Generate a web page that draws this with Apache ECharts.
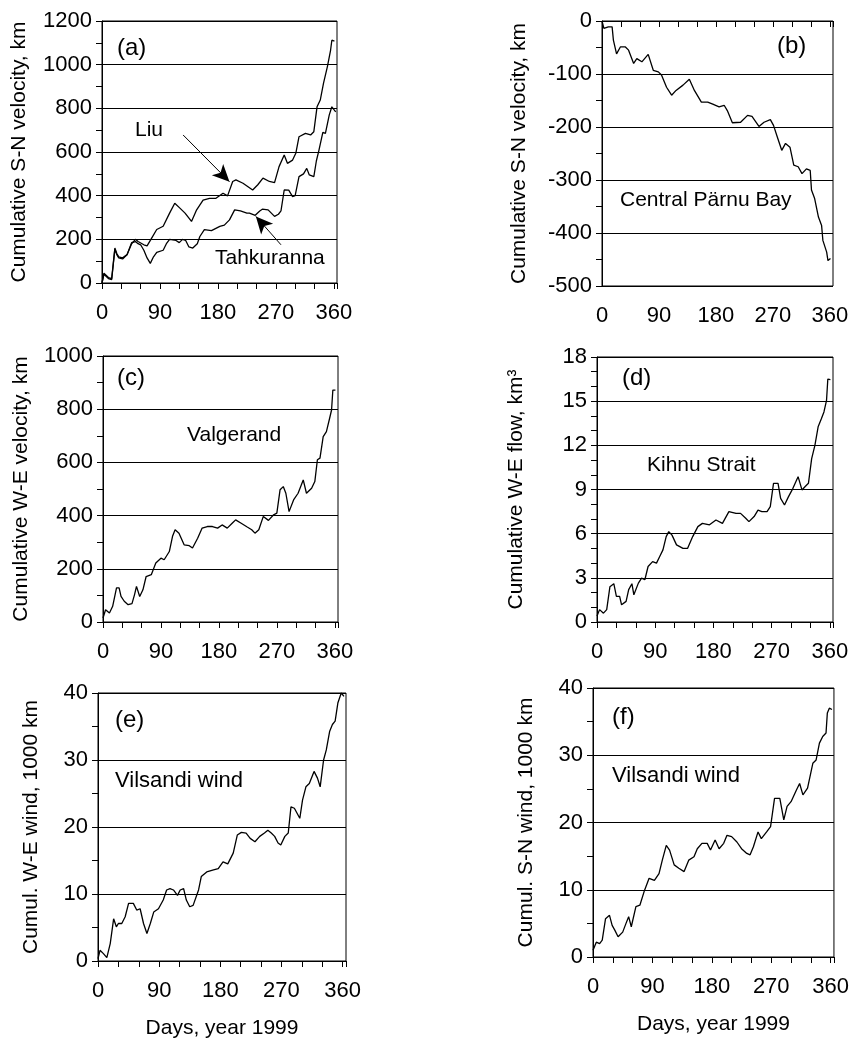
<!DOCTYPE html>
<html>
<head>
<meta charset="utf-8">
<script src="https://cdn.jsdelivr.net/npm/echarts@6/dist/echarts.min.js"></script>
<style>
html, body { margin: 0; padding: 0; background: #fff; }
#main { width: 852px; height: 1041px; }
</style>
</head>
<body>
<div id="main"></div>
<script>
// x axis labels (days)
var dayLabels = [0, 90, 180, 270, 360];

// (a) cumulative S-N velocity, km
var liuDays = [0,3,6,10,15,20,23,26,32,39,46,52,56,59,65,70,76,85,95,105,113,121,129,139,147,157,167,177,188,195,203,208,219,234,242,250,260,268,275,283,288,296,301,306,316,324,329,334,339,344,350,355,357,361];
var liuVals = [0,45,40,25,20,160,135,120,115,130,180,200,190,183,175,170,200,245,260,320,365,343,320,282,335,380,388,388,411,399,465,472,457,426,450,480,465,460,533,586,548,563,594,670,685,678,693,807,838,914,990,1066,1112,1108];
var tahkDays = [0,3,6,10,15,20,23,26,32,39,46,52,56,60,65,70,75,80,85,95,100,105,115,120,125,130,135,141,148,152,159,170,183,190,198,206,215,225,229,238,245,249,258,268,274,278,283,290,296,300,306,313,318,322,329,333,337,343,347,353,357,360,363];
var tahkVals = [0,40,35,20,15,155,130,115,110,130,185,190,180,175,150,115,90,120,140,150,180,200,195,185,200,195,165,160,180,213,244,240,259,265,289,335,330,320,320,310,330,338,335,305,315,330,426,425,396,400,487,500,525,495,487,560,609,690,685,770,807,795,784];
var liuArrow = [[126, 678], [198, 464]];
var tahkArrow = [[278, 175], [239, 305]];

// (b) Central Pärnu Bay
var parnuDays = [0,3,10,16,18,23,29,37,42,50,55,63,73,81,89,94,102,110,117,128,138,146,157,167,175,185,193,198,206,219,230,237,248,256,266,271,277,284,290,297,303,310,316,323,329,331,336,342,347,349,355,357,361];
var parnuVals = [0,-14,-11,-11,-36,-62,-49,-49,-55,-80,-71,-77,-63,-93,-96,-102,-125,-140,-131,-121,-110,-131,-153,-153,-157,-162,-159,-169,-192,-191,-178,-180,-199,-191,-186,-197,-219,-244,-231,-238,-272,-275,-288,-279,-282,-319,-335,-370,-386,-414,-436,-452,-448];

// (c) Valgerand W-E velocity
var valgDays = [0,4,10,15,21,25,28,33,39,45,49,52,57,62,67,75,82,90,95,103,108,112,118,126,134,139,147,154,162,170,178,185,193,201,206,214,224,231,236,242,249,257,265,270,275,280,284,289,296,303,311,316,324,329,333,337,342,347,352,355,357,361];
var valgVals = [15,46,34,59,128,128,96,78,65,69,103,134,96,121,171,178,222,240,234,265,322,347,334,290,287,278,315,353,359,359,353,365,353,372,384,372,357,347,334,347,397,382,403,409,497,509,484,415,459,484,534,484,503,528,610,616,697,716,766,797,872,872];

// (d) Kihnu Strait W-E flow, km3
var kihnuDays = [0,4,10,15,20,26,30,35,38,45,49,54,57,64,69,74,79,86,92,97,102,107,111,116,123,133,140,148,156,163,174,184,194,204,215,222,230,235,243,249,255,263,268,273,280,284,290,296,303,311,317,322,327,332,337,342,347,351,355,357,361];
var kihnuVals = [0.4,0.84,0.6,0.84,2.4,2.6,1.74,1.74,1.17,1.4,2.2,2.6,1.85,2.64,2.98,2.87,3.77,4.1,4.0,4.45,4.9,5.8,6.14,5.9,5.24,5.0,5.0,5.8,6.48,6.7,6.6,6.93,6.7,7.5,7.38,7.38,7.05,6.82,7.16,7.6,7.5,7.5,7.84,9.42,9.42,8.4,7.95,8.5,9.08,9.87,8.97,9.2,9.42,11.1,12.0,13.26,13.8,14.27,15.06,16.5,16.46];

// (e) Vilsandi W-E wind, 1000 km
var weWindDays = [0,3,8,13,18,23,27,30,35,40,45,52,57,62,67,72,77,82,89,96,101,106,111,117,121,126,130,135,140,148,152,160,170,177,184,191,199,205,211,218,224,231,238,245,250,255,260,265,269,275,280,284,289,297,301,306,311,318,323,327,332,336,341,345,349,353,358,362];
var weWindVals = [0.35,1.6,1.1,0.5,2.6,6.3,5.1,5.6,5.6,6.6,8.6,8.6,7.6,7.8,5.6,4.1,5.6,7.3,7.8,9.1,10.6,10.8,10.6,9.8,10.6,10.8,9.1,8.1,8.3,10.6,12.6,13.3,13.6,13.8,14.8,14.5,16.1,18.8,19.2,19.1,18.3,17.8,18.6,19.1,19.5,19.1,18.6,17.6,17.3,18.6,19.1,23.0,22.8,21.3,24.0,26.0,26.5,28.3,27.3,26.0,30.0,31.5,34.3,35.3,35.8,38.5,40.0,39.5];

// (f) Vilsandi S-N wind, 1000 km
var snWindDays = [0,5,10,14,19,25,29,33,38,45,50,54,58,65,71,78,85,93,100,105,111,116,123,130,138,145,153,158,165,173,178,185,191,198,203,210,218,225,233,238,243,250,255,263,269,275,283,289,294,300,308,313,318,325,333,338,343,348,353,355,358,362];
var snWindVals = [1.0,2.2,2.0,2.5,5.7,6.2,4.7,4.0,3.0,3.7,5.0,6.0,4.5,7.5,7.7,9.9,11.7,11.4,12.4,14.4,16.6,15.9,13.7,13.2,12.7,14.4,14.9,16.1,16.9,16.9,15.9,17.4,16.1,16.9,18.1,17.9,17.1,16.1,15.4,15.2,16.4,18.6,17.6,18.6,19.4,23.6,23.6,20.4,22.4,23.1,24.8,25.8,24.1,25.1,28.8,29.3,31.8,32.8,33.3,36.3,37.0,36.8];

var FONT = '"Liberation Sans", Arial, sans-serif';

function zip(xs, ys) {
	var out = [];
	for (var i = 0; i < xs.length; i++) out.push([xs[i], ys[i]]);
	return out;
}

// one panel = grid + axes
var panels = [
	{ grid: { left: 102, top: 21, width: 235, height: 262 }, min: 0, max: 1200, interval: 200, minor: 2, name: 'Cumulative S-N velocity, km', gap: 72 },
	{ grid: { left: 602, top: 21, width: 231, height: 265 }, min: -500, max: 0, interval: 100, minor: 2, name: 'Cumulative S-N velocity, km', gap: 72 },
	{ grid: { left: 103, top: 356, width: 235, height: 266 }, min: 0, max: 1000, interval: 200, minor: 2, name: 'Cumulative W-E velocity, km', gap: 71 },
	{ grid: { left: 597, top: 357, width: 236, height: 265 }, min: 0, max: 18, interval: 3, minor: 3, name: 'Cumulative W-E flow, km\u00b3', gap: 70 },
	{ grid: { left: 98, top: 693, width: 248, height: 268 }, min: 0, max: 40, interval: 10, minor: 2, name: 'Cumul. W-E wind, 1000 km', gap: 56, xname: true },
	{ grid: { left: 593, top: 688, width: 243, height: 269 }, min: 0, max: 40, interval: 10, minor: 2, name: 'Cumul. S-N wind, 1000 km', gap: 56, xname: true }
];

var grids = [], xAxes = [], yAxes = [];
panels.forEach(function (p, i) {
	grids.push(Object.assign({ show: true, borderColor: '#000', borderWidth: 1, backgroundColor: '#fff' }, p.grid));
	xAxes.push({
		type: 'value', gridIndex: i, min: 0, max: 365, interval: 30,
		axisLine: { lineStyle: { color: '#000', width: 1 } },
		axisTick: { show: true, inside: false, length: 6, lineStyle: { color: '#000' } },
		axisLabel: {
			color: '#000', fontSize: 22, fontFamily: FONT, margin: 19,
			formatter: function (v) { return dayLabels.indexOf(v) >= 0 ? String(v) : ''; }
		},
		splitLine: { show: false },
		name: p.xname ? 'Days, year 1999' : '',
		nameLocation: 'middle', nameGap: 57,
		nameTextStyle: { color: '#000', fontSize: 21, fontFamily: FONT }
	});
	yAxes.push({
		type: 'value', gridIndex: i, min: p.min, max: p.max, interval: p.interval,
		axisLine: { show: true, lineStyle: { color: '#000', width: 1 } },
		axisTick: { show: true, inside: false, length: 6, lineStyle: { color: '#000' } },
		minorTick: { show: true, splitNumber: p.minor, length: 6, lineStyle: { color: '#000' } },
		axisLabel: { color: '#000', fontSize: 22, fontFamily: FONT, margin: 10,
			formatter: function (v) { return String(v); } },
		splitLine: { show: true, lineStyle: { color: '#000', width: 1 } },
		name: p.name, nameLocation: 'middle', nameGap: p.gap,
		nameTextStyle: { color: '#000', fontSize: 21, fontFamily: FONT }
	});
});

function lineSeries(idx, xs, ys, arrow) {
	var s = {
		type: 'line', xAxisIndex: idx, yAxisIndex: idx,
		data: zip(xs, ys), showSymbol: false, symbol: 'none',
		lineStyle: { color: '#000', width: 1.3 }, silent: true, animation: false
	};
	if (arrow) {
		s.markLine = {
			silent: true, animation: false,
			symbol: ['none', 'arrow'], symbolSize: [12, 17],
			lineStyle: { color: '#000', width: 1, type: 'solid' },
			label: { show: false },
			data: [[{ coord: arrow[0] }, { coord: arrow[1] }]]
		};
	}
	return s;
}

function txt(left, top, text, size) {
	return { type: 'text', left: left, top: top, silent: true,
		style: { text: text, fill: '#000', fontSize: size || 21, fontFamily: FONT } };
}

var dom = document.getElementById('main');
var myChart = echarts.init(dom);
var option = {
	animation: false,
	backgroundColor: '#fff',
	grid: grids,
	xAxis: xAxes,
	yAxis: yAxes,
	series: [
		lineSeries(0, liuDays, liuVals, liuArrow),
		lineSeries(0, tahkDays, tahkVals, tahkArrow),
		lineSeries(1, parnuDays, parnuVals),
		lineSeries(2, valgDays, valgVals),
		lineSeries(3, kihnuDays, kihnuVals),
		lineSeries(4, weWindDays, weWindVals),
		lineSeries(5, snWindDays, snWindVals)
	],
	graphic: [
		txt(117, 36, '(a)', 24),
		txt(135, 120, 'Liu'),
		txt(215, 248, 'Tahkuranna'),
		txt(777, 34, '(b)', 24),
		txt(620, 190, 'Central Pärnu Bay'),
		txt(117, 366, '(c)', 24),
		txt(187, 425, 'Valgerand'),
		txt(622, 366, '(d)', 24),
		txt(647, 455, 'Kihnu Strait'),
		txt(115, 708, '(e)', 24),
		txt(115, 770, 'Vilsandi wind', 22),
		txt(612, 705, '(f)', 24),
		txt(612, 765, 'Vilsandi wind', 22)
	]
};
myChart.setOption(option, true);
</script>
</body>
</html>
